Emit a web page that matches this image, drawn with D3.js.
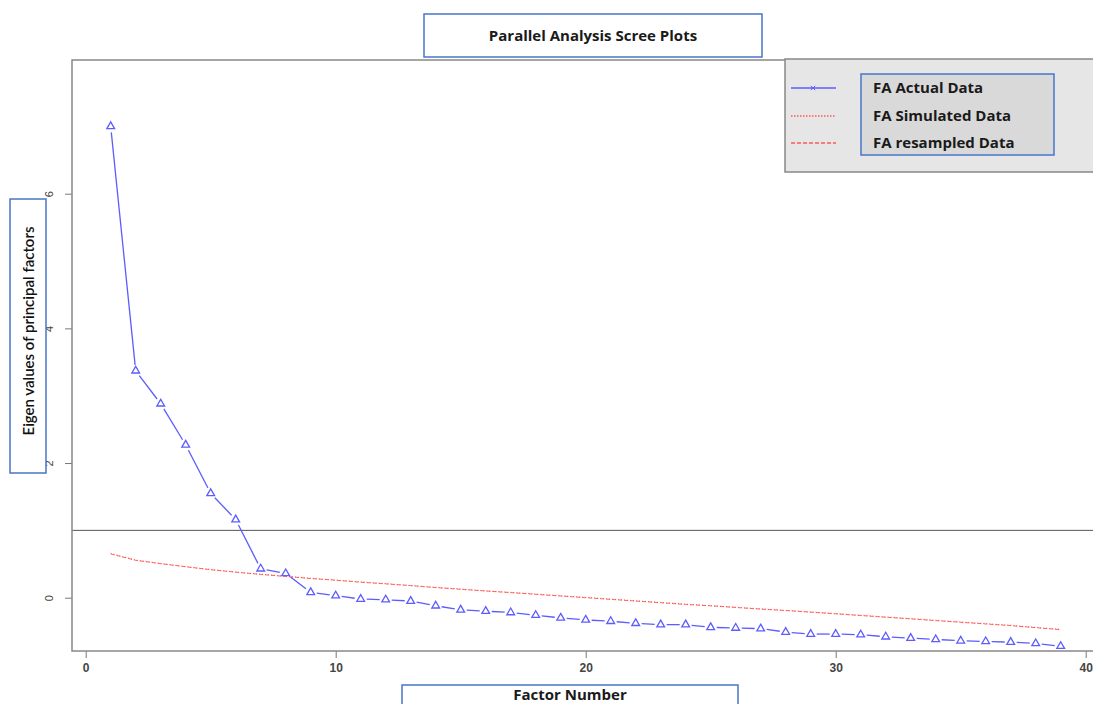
<!DOCTYPE html>
<html lang="en">
<head>
<meta charset="UTF-8">
<title>Parallel Analysis Scree Plots</title>
<script src="https://d3js.org/d3.v7.min.js"></script>
<style>
    body { margin: 0; background: #fff; }
    svg { display: block; font-family: "Open Sans", Lato, sans-serif; }
    .tick text { font-family: "Liberation Sans", Arial, sans-serif; font-size: 12px; fill: #444; }
    .tick line { stroke: #777; }
</style>
</head>
<body>
<div id="chart"></div>
<script>
    // factor numbers and eigen values
    var factors = d3.range(1, 40);
    var actualData = [7.00, 3.37, 2.88, 2.27, 1.55, 1.16, 0.43, 0.36, 0.08, 0.03,
        -0.02, -0.03, -0.05, -0.12, -0.18, -0.20, -0.22, -0.26, -0.30, -0.33,
        -0.35, -0.38, -0.40, -0.40, -0.44, -0.45, -0.46, -0.51, -0.54, -0.54,
        -0.55, -0.58, -0.60, -0.62, -0.64, -0.65, -0.66, -0.68, -0.72];
    var simulatedData = [0.66, 0.56, 0.51, 0.46, 0.42, 0.38, 0.35, 0.32, 0.29, 0.26,
        0.235, 0.21, 0.18, 0.155, 0.13, 0.10, 0.08, 0.055, 0.03, 0.005,
        -0.02, -0.045, -0.07, -0.095, -0.12, -0.14, -0.165, -0.19, -0.21, -0.235,
        -0.26, -0.285, -0.31, -0.335, -0.36, -0.385, -0.41, -0.44, -0.47];
    var resampledData = [0.65, 0.555, 0.505, 0.46, 0.415, 0.38, 0.345, 0.315, 0.285, 0.26,
        0.23, 0.205, 0.18, 0.15, 0.125, 0.10, 0.075, 0.05, 0.025, 0.0,
        -0.025, -0.05, -0.075, -0.10, -0.12, -0.145, -0.17, -0.19, -0.215, -0.24,
        -0.265, -0.29, -0.315, -0.34, -0.365, -0.39, -0.415, -0.445, -0.475];
    var xTicks = [0, 10, 20, 30, 40];
    var yTicks = [0, 2, 4, 6];
    var legendLabels = ["FA Actual Data", "FA Simulated Data", "FA resampled Data"];

    var W = 1093, H = 704;
    var frame = { left: 72, right: 1099, top: 60, bottom: 651 };
    var boxBlue = "#4a76c8", actualColor = "#5c5cff", simColor = "#ff4444";

    var svg = d3.select("#chart").append("svg")
        .attr("width", W)
        .attr("height", H);

    var x = d3.scaleLinear().domain([0, 40]).range([85.7, 1085.7]);
    var y = d3.scaleLinear().domain([0, 6]).range([597.7, 193.7]);

    // axes
    svg.append("g")
        .attr("transform", "translate(0," + frame.bottom + ")")
        .call(d3.axisBottom(x).tickValues(xTicks).tickSize(7).tickPadding(5))
        .call(function (g) { g.select(".domain").remove(); })
        .selectAll("text").style("font-weight", "bold");

    var yAxis = svg.append("g")
        .attr("transform", "translate(" + frame.left + ",0)")
        .call(d3.axisLeft(y).tickValues(yTicks).tickFormat(d3.format("d")).tickSize(7).tickPadding(0))
        .call(function (g) { g.select(".domain").remove(); });
    yAxis.selectAll(".tick text")
        .attr("x", 0).attr("dy", 0)
        .attr("text-anchor", "middle")
        .attr("transform", "translate(-19,0) rotate(-90)")
        .style("font-size", "11px");

    // reference line at eigen value 1
    svg.append("line")
        .attr("x1", frame.left).attr("x2", W)
        .attr("y1", y(1)).attr("y2", y(1))
        .attr("stroke", "#555").attr("stroke-width", 1);

    // simulated and resampled lines
    var line = d3.line()
        .x(function (d, i) { return x(factors[i]); })
        .y(function (d) { return y(d); });

    svg.append("path")
        .attr("d", line(simulatedData))
        .attr("fill", "none")
        .attr("stroke", simColor)
        .attr("stroke-width", 1)
        .attr("opacity", 0.8)
        .attr("stroke-dasharray", "1,2");

    svg.append("path")
        .attr("d", line(resampledData))
        .attr("fill", "none")
        .attr("stroke", simColor)
        .attr("stroke-width", 1)
        .attr("opacity", 0.8)
        .attr("stroke-dasharray", "4,2");

    // actual data, R type "b": segments with gaps round the points
    var pts = actualData.map(function (d, i) { return [x(factors[i]), y(d)]; });
    var gap = 6;
    var segs = d3.pairs(pts).map(function (p) {
        var dx = p[1][0] - p[0][0], dy = p[1][1] - p[0][1];
        var len = Math.sqrt(dx * dx + dy * dy);
        var ux = dx / len, uy = dy / len;
        return [p[0][0] + ux * gap, p[0][1] + uy * gap, p[1][0] - ux * gap, p[1][1] - uy * gap, len];
    }).filter(function (s) { return s[4] > 2 * gap; });

    svg.selectAll("line.seg")
        .data(segs)
        .enter()
        .append("line")
        .attr("class", "seg")
        .attr("x1", function (d) { return d[0]; })
        .attr("y1", function (d) { return d[1]; })
        .attr("x2", function (d) { return d[2]; })
        .attr("y2", function (d) { return d[3]; })
        .attr("stroke", actualColor)
        .attr("stroke-width", 1.3);

    svg.selectAll("path.tri")
        .data(actualData)
        .enter()
        .append("path")
        .attr("class", "tri")
        .attr("d", d3.symbol().type(d3.symbolTriangle).size(26))
        .attr("transform", function (d, i) { return "translate(" + x(factors[i]) + "," + y(d) + ")"; })
        .attr("fill", "none")
        .attr("stroke", actualColor)
        .attr("stroke-width", 1.3);

    // plot frame
    svg.append("rect")
        .attr("x", frame.left).attr("y", frame.top)
        .attr("width", frame.right - frame.left)
        .attr("height", frame.bottom - frame.top)
        .attr("fill", "none")
        .attr("stroke", "#888")
        .attr("stroke-width", 1.5);

    // legend
    var legend = svg.append("g");
    legend.append("rect")
        .attr("x", 785).attr("y", 59)
        .attr("width", 320).attr("height", 113)
        .attr("fill", "#e6e6e6")
        .attr("stroke", "#888").attr("stroke-width", 1.5);
    legend.append("rect")
        .attr("x", 861).attr("y", 74)
        .attr("width", 193).attr("height", 81)
        .attr("fill", "#d9d9d9")
        .attr("stroke", boxBlue).attr("stroke-width", 1.5);

    var legendItems = legend.selectAll("g.item")
        .data(legendLabels)
        .enter()
        .append("g")
        .attr("class", "item")
        .attr("transform", function (d, i) { return "translate(0," + [88, 116, 143][i] + ")"; });

    legendItems.append("line")
        .attr("x1", 791).attr("x2", 836)
        .attr("stroke", function (d, i) { return i === 0 ? actualColor : "#ff5a5a"; })
        .attr("stroke-width", 1.4)
        .attr("stroke-dasharray", function (d, i) { return i === 0 ? null : (i === 1 ? "1.5,1.5" : "4,2"); });

    legendItems.append("text")
        .attr("x", 873)
        .attr("dy", "0.36em")
        .style("font-size", "15px")
        .style("font-weight", "bold")
        .style("fill", "#1a1a1a")
        .text(function (d) { return d; });

    legend.append("path")
        .attr("d", d3.symbol().type(d3.symbolX).size(14))
        .attr("transform", "translate(813,88)")
        .attr("fill", "none")
        .attr("stroke", actualColor);

    // title box
    svg.append("rect")
        .attr("x", 424).attr("y", 14)
        .attr("width", 338).attr("height", 43)
        .attr("fill", "#fff")
        .attr("stroke", boxBlue).attr("stroke-width", 1.5);
    svg.append("text")
        .attr("x", 593).attr("y", 36)
        .attr("dy", "0.35em")
        .attr("text-anchor", "middle")
        .style("font-size", "15px")
        .style("font-weight", "bold")
        .style("fill", "#1a1a1a")
        .text("Parallel Analysis Scree Plots");

    // y label box
    svg.append("rect")
        .attr("x", 10).attr("y", 199)
        .attr("width", 36).attr("height", 274)
        .attr("fill", "#fff")
        .attr("stroke", boxBlue).attr("stroke-width", 1.5);
    svg.append("text")
        .attr("transform", "translate(29,331) rotate(-90)")
        .attr("dy", "0.35em")
        .attr("text-anchor", "middle")
        .style("font-family", "Lato, sans-serif")
        .style("font-size", "15px")
        .style("font-weight", "600")
        .style("fill", "#111")
        .text("Eigen values of principal factors");

    // x label box
    svg.append("rect")
        .attr("x", 402).attr("y", 685)
        .attr("width", 336).attr("height", 30)
        .attr("fill", "#fff")
        .attr("stroke", boxBlue).attr("stroke-width", 1.5);
    svg.append("text")
        .attr("x", 570).attr("y", 695)
        .attr("dy", "0.35em")
        .attr("text-anchor", "middle")
        .style("font-size", "15px")
        .style("font-weight", "bold")
        .style("fill", "#1a1a1a")
        .text("Factor Number");
</script>
</body>
</html>
